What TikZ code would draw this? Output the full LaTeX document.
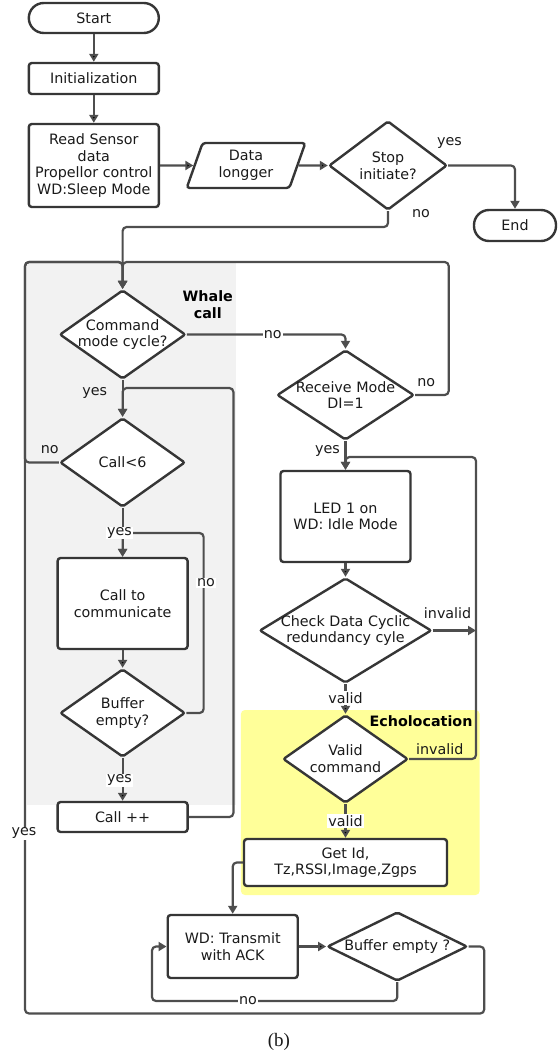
\documentclass[tikz,border=0pt]{standalone}
\usepackage{fontspec}
\setmainfont{DejaVu Sans}
\newfontfamily\capfont{Liberation Serif}
\usetikzlibrary{shapes.geometric, arrows.meta}

\definecolor{boxgray}{HTML}{363636}
\definecolor{linegray}{HTML}{4E4E4E}
\definecolor{txtgray}{HTML}{1A1A1A}
\definecolor{whalebg}{HTML}{F2F2F2}
\definecolor{echobg}{HTML}{FFFF99}

\tikzset{
    every node/.style={font=\fontsize{14.3}{16.7}\selectfont, text=txtgray},
    proc/.style={draw=boxgray, line width=2.4pt, rectangle, rounded corners=3pt, fill=white, align=center, minimum width=130pt},
    term/.style={proc, rounded corners=15pt, minimum height=30pt},
    dec/.style={draw=boxgray, line width=2.4pt, diamond, rounded corners=2pt, fill=white, align=center,
        inner sep=-4pt, shape aspect=1.8},
    io/.style={draw=boxgray, line width=2.4pt, trapezium, trapezium left angle=73, trapezium right angle=107,
        trapezium stretches=true, rounded corners=3pt, fill=white, align=center},
    flow/.style={draw=linegray, line width=2.2pt, rounded corners=4pt, -{Triangle[length=8pt,width=9pt]}},
    lbl/.style={fill=white, inner sep=1pt},
    zone/.style={font=\fontsize{14.3}{16.7}\selectfont\bfseries, align=center, text=black}
}

\begin{document}
\begin{tikzpicture}[x=1pt, y=-1pt]
    \useasboundingbox (0,0) rectangle (557,1054);

    % shaded groups
    \fill[whalebg] (26.6,262) rectangle (236.2,805);
    \fill[echobg, rounded corners=4pt] (240.9,710) rectangle (479.6,895);
    \node[zone] (whale) at (207.8,305) {Whale\\call};
    \node[zone] (echo) at (421,721) {Echolocation};

    % blocks
    \node[term] (start) at (93.8,18) {Start};
    \node[proc, minimum height=31pt] (init) at (93.8,78.5) {Initialization};
    \node[proc, minimum height=83pt] (read) at (93.8,165.5) {Read Sensor\\data\\Propellor control\\WD:Sleep Mode};
    \node[io, minimum width=119pt, minimum height=45pt] (logger) at (246,165.5) {Data\\longger};
    \node[dec, minimum width=118pt, minimum height=89pt] (stop) at (388,165.5) {Stop\\initiate?};
    \node[term, minimum width=82pt, minimum height=31pt] (end) at (515,225.5) {End};
    \node[dec, minimum width=126pt, minimum height=89pt] (cmd) at (122.6,334.5) {Command\\mode cycle?};
    \node[dec, minimum width=137pt, minimum height=90pt] (recv) at (345.5,395) {Receive Mode\\DI=1};
    \node[dec, minimum width=125pt, minimum height=89pt] (call6) at (122.6,462.5) {Call<6};
    \node[proc, minimum height=91pt] (led) at (345.5,516.5) {LED 1 on\\WD: Idle Mode};
    \node[proc, minimum height=91pt] (comm) at (122.6,603.5) {Call to\\communicate};
    \node[dec, minimum width=172pt, minimum height=105pt] (crc) at (345.5,630.5) {Check Data Cyclic\\redundancy cyle};
    \node[dec, minimum width=125pt, minimum height=88pt] (buf1) at (122.6,713) {Buffer\\empty?};
    \node[dec, minimum width=125pt, minimum height=88pt] (valid) at (345.5,759) {Valid\\command};
    \node[proc, minimum height=30pt] (inc) at (122.6,817) {Call ++};
    \node[proc, minimum width=203pt, minimum height=47pt] (getid) at (345.5,862.5) {Get Id,\\Tz,RSSI,Image,Zgps};
    \node[proc, minimum height=63pt] (tx) at (232.7,946.5) {WD: Transmit\\with ACK};
    \node[dec, minimum width=140pt, minimum height=69pt] (buf2) at (397.3,946.5) {Buffer empty ?};

    % bends
    \coordinate (tl) at (25,262);
    \coordinate (tr) at (448.7,262);
    \coordinate (j1) at (122.6,227);
    \coordinate (ir) at (233.4,388);
    \coordinate (br) at (203.6,533);
    \coordinate (vt) at (476,457);
    \coordinate (bl) at (152,1001);
    \coordinate (yr) at (484.2,1013.5);

    \draw[flow] (start) edge (init)
        (init) edge (read)
        (read) edge (logger)
        (logger) edge (stop)
        (cmd) edge (call6)
        (call6) edge (comm)
        (comm) edge (buf1)
        (buf1) edge (inc)
        (recv) edge (led)
        (led) edge (crc)
        (crc) edge (valid)
        (valid) edge (getid)
        (tx) edge (buf2)
        ;
    \draw[flow] (stop.east) -| (end.north);
    \draw[flow] (stop.south) |- (j1) -- (cmd.north);
    \draw[flow] (call6.west) -| (tl) -| (cmd.north);
    \draw[flow] (recv.east) -| (tr) -| (cmd.north);
    \draw[flow] (cmd.east) -| (recv.north);
    \draw[flow] (inc.east) -| (ir) -| (call6.north);
    \draw[flow] (buf1.east) -| (br) -| (comm.north);
    \draw[flow] (crc.east) -- (crc.east -| vt);
    \draw[flow] (valid.east) -| (vt) -| (led.north);
    \draw[flow] (getid.west) -| (tx.north);
    \draw[flow] (buf2.south) |- (bl) |- (tx.west);
    \draw[flow] (buf2.east) -| (yr) -| (tl) -| (cmd.north);

    % labels
    \node (l1) at (449.4,143) {yes};
    \node (l2) at (421,214) {no};
    \node[lbl] (l3) at (272.8,334.5) {no};
    \node (l4) at (94.8,393) {yes};
    \node (l5) at (426.3,383) {no};
    \node (l6) at (49.7,450) {no};
    \node (l7) at (327.5,451) {yes};
    \node[lbl] (l8) at (119.4,533) {yes};
    \node[lbl] (l9) at (206,583) {no};
    \node (l10) at (447.6,613) {invalid};
    \node[lbl] (l11) at (345.5,698) {valid};
    \node (l12) at (439.8,749) {invalid};
    \node[lbl] (l13) at (119.4,780) {yes};
    \node[lbl] (l14) at (345.5,821) {valid};
    \node[lbl] (l15) at (24,833) {yes};
    \node[lbl] (l16) at (248,1001) {no};
    \node[font=\capfont\fontsize{19}{22}\selectfont] (cap) at (278.9,1042) {(b)};
\end{tikzpicture}
\end{document}
